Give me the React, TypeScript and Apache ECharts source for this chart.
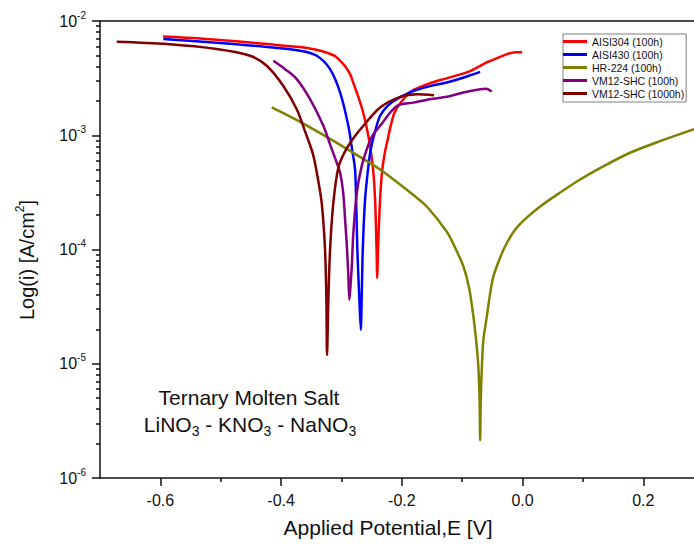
import React, { useEffect, useRef } from "react";
import * as echarts from "echarts";

const FONT = "'Liberation Sans', Arial, sans-serif";

// Tick values
const xMajorTicks = [-0.6, -0.4, -0.2, 0.0, 0.2];
const xMinorTicks = [-0.5, -0.3, -0.1, 0.1];
const yMajorTicks = [1e-6, 1e-5, 1e-4, 1e-3, 1e-2];

// AISI304 (100h)
const aisi304E = [-0.5956, -0.5343, -0.4796, -0.4233, -0.3686, -0.3437, -0.3239, -0.3106, -0.3023, -0.294, -0.2857, -0.2808, -0.2725, -0.2642, -0.2576, -0.2526, -0.2476, -0.2443, -0.2427, -0.2415, -0.241, -0.2389, -0.236, -0.2327, -0.2278, -0.2244, -0.2178, -0.2112, -0.1946, -0.1814, -0.1532, -0.125, -0.0869, -0.0587, -0.0422, -0.0256, -0.0124, -0.0008];
const aisi304I = [7.31e-3, 7.02e-3, 6.67e-3, 6.28e-3, 5.91e-3, 5.62e-3, 5.28e-3, 4.93e-3, 4.5e-3, 4.02e-3, 3.43e-3, 2.91e-3, 2.2e-3, 1.59e-3, 1.13e-3, 8.0e-4, 5.02e-4, 2.74e-4, 1.49e-4, 8.13e-5, 5.65e-5, 1.22e-4, 2.74e-4, 4.82e-4, 7.22e-4, 8.67e-4, 1.25e-3, 1.62e-3, 2.15e-3, 2.48e-3, 2.85e-3, 3.16e-3, 3.64e-3, 4.36e-3, 4.73e-3, 5.13e-3, 5.34e-3, 5.34e-3];

// AISI430 (100h)
const aisi430E = [-0.5951, -0.4791, -0.4233, -0.3686, -0.3409, -0.3189, -0.3023, -0.2886, -0.2824, -0.2775, -0.2753, -0.2737, -0.2703, -0.268, -0.2662, -0.2647, -0.2609, -0.2554, -0.2515, -0.2443, -0.236, -0.2228, -0.2084, -0.1809, -0.1532, -0.1255, -0.0985, -0.0703];
const aisi430I = [6.95e-3, 6.28e-3, 5.91e-3, 5.49e-3, 4.96e-3, 3.79e-3, 2.37e-3, 1.21e-3, 7.51e-4, 5.02e-4, 2.23e-4, 9.96e-5, 3.62e-5, 1.98e-5, 4.44e-5, 9.96e-5, 2.74e-4, 5.37e-4, 7.51e-4, 1.08e-3, 1.48e-3, 1.83e-3, 2.07e-3, 2.44e-3, 2.69e-3, 2.9e-3, 3.19e-3, 3.59e-3];

// HR-224 (100h)
const hr224E = [-0.4155, -0.3686, -0.3189, -0.2775, -0.236, -0.2029, -0.1809, -0.1587, -0.1255, -0.1118, -0.098, -0.0886, -0.0814, -0.077, -0.0732, -0.0712, -0.0703, -0.0692, -0.0674, -0.0649, -0.0592, -0.0538, -0.0483, -0.0372, -0.0261, -0.0124, 0.0014, 0.0291, 0.0622, 0.0954, 0.1368, 0.1782, 0.2312, 0.2843];
const hr224I = [1.75e-3, 1.31e-3, 9.3e-4, 6.87e-4, 5.02e-4, 3.71e-4, 3.0e-4, 2.38e-4, 1.43e-4, 1.04e-4, 7.11e-5, 4.62e-5, 2.59e-5, 1.62e-5, 9.41e-6, 4.8e-6, 2.14e-6, 4.8e-6, 9.41e-6, 1.62e-5, 2.59e-5, 4.09e-5, 5.81e-5, 8.48e-5, 1.14e-4, 1.49e-4, 1.79e-4, 2.38e-4, 3.15e-4, 4.1e-4, 5.45e-4, 7.03e-4, 9.01e-4, 1.13e-3];

// VM12-SHC (100h)
const vm100E = [-0.4128, -0.3935, -0.3741, -0.352, -0.33, -0.3189, -0.3078, -0.3023, -0.2973, -0.294, -0.2907, -0.2886, -0.2869, -0.2849, -0.2829, -0.2803, -0.2746, -0.2664, -0.2581, -0.2493, -0.236, -0.2084, -0.1809, -0.1532, -0.1255, -0.098, -0.0703, -0.0604, -0.051];
const vm100I = [4.48e-3, 3.79e-3, 3.1e-3, 2.07e-3, 1.21e-3, 8.32e-4, 5.74e-4, 4.72e-4, 3.21e-4, 1.83e-4, 9.96e-5, 5.81e-5, 3.62e-5, 4.91e-5, 7.11e-5, 1.4e-4, 3.13e-4, 5.37e-4, 7.51e-4, 9.77e-4, 1.21e-3, 1.8e-3, 1.93e-3, 2.07e-3, 2.17e-3, 2.37e-3, 2.53e-3, 2.55e-3, 2.41e-3];

// VM12-SHC (1000h)
const vm1000E = [-0.6723, -0.5895, -0.5066, -0.4514, -0.4238, -0.3963, -0.3741, -0.3603, -0.3471, -0.3388, -0.3326, -0.3272, -0.325, -0.3239, -0.3217, -0.3189, -0.3134, -0.3051, -0.294, -0.2791, -0.2637, -0.236, -0.2029, -0.1747, -0.1466];
const vm1000I = [6.58e-3, 6.28e-3, 5.68e-3, 4.96e-3, 4.06e-3, 2.7e-3, 1.69e-3, 1.08e-3, 6.8e-4, 4.1e-4, 2.52e-4, 9.96e-5, 3.62e-5, 1.19e-5, 3.62e-5, 9.96e-5, 2.58e-4, 5.22e-4, 7.22e-4, 9.59e-4, 1.21e-3, 1.75e-3, 2.17e-3, 2.29e-3, 2.24e-3];

const seriesNames = ["AISI304 (100h)", "AISI430 (100h)", "HR-224 (100h)", "VM12-SHC (100h)", "VM12-SHC (1000h)"];
const seriesColors = ["#ff0000", "#0000ff", "#808000", "#800080", "#800000"];
const seriesE = [aisi304E, aisi430E, hr224E, vm100E, vm1000E];
const seriesI = [aisi304I, aisi430I, hr224I, vm100I, vm1000I];

export default function App() {
  const ref = useRef<HTMLDivElement>(null);
  useEffect(() => {
    if (!ref.current) return;
    const chart = echarts.init(ref.current, null, { renderer: "svg" });
    const yMinor: number[] = [];
    for (let d = -6; d <= -3; d++) {
      for (let k = 2; k <= 9; k++) yMinor.push(k * Math.pow(10, d));
    }
    const axisColor = "#111";
    const xMin = -0.7;
    const xMax = 0.284;
    const option: any = {
      animation: false,
      backgroundColor: "#fff",
      grid: { left: 100, right: 0, top: 21, bottom: 67 },
      legend: {
        orient: "vertical",
        left: 563,
        top: 34,
        icon: "rect",
        itemWidth: 24,
        itemHeight: 3,
        itemGap: 0,
        padding: [1, 2, 2, 0],
        borderColor: "#808080",
        borderWidth: 1,
        backgroundColor: "#fff",
        textStyle: { fontSize: 10.5, lineHeight: 13, color: "#111", fontFamily: FONT },
        data: seriesNames,
      },
      xAxis: [
        {
          type: "value",
          min: xMin,
          max: xMax,
          position: "bottom",
          axisLine: { show: true, onZero: false, lineStyle: { color: axisColor, width: 1.5 } },
          axisTick: { show: true, customValues: xMajorTicks, length: 8, lineStyle: { color: axisColor, width: 1.5 } },
          axisLabel: {
            customValues: xMajorTicks,
            formatter: (v: number) => v.toFixed(1),
            fontSize: 16,
            color: "#111",
            fontFamily: FONT,
            margin: 14,
          },
          splitLine: { show: false },
        },
        {
          type: "value",
          min: xMin,
          max: xMax,
          position: "bottom",
          axisLine: { show: false, onZero: false },
          axisTick: { show: true, customValues: xMinorTicks, length: 4, lineStyle: { color: axisColor, width: 1.5 } },
          axisLabel: { show: false },
          splitLine: { show: false },
        },
        {
          type: "value",
          min: xMin,
          max: xMax,
          position: "top",
          axisLine: { show: true, onZero: false, lineStyle: { color: axisColor, width: 1.5 } },
          axisTick: { show: false },
          axisLabel: { show: false },
          splitLine: { show: false },
        },
      ],
      yAxis: [
        {
          type: "log",
          logBase: 10,
          min: 1e-6,
          max: 1e-2,
          position: "left",
          axisLine: { show: true, onZero: false, lineStyle: { color: axisColor, width: 1.5 } },
          axisTick: { show: true, customValues: yMajorTicks, length: 8, lineStyle: { color: axisColor, width: 1.5 } },
          axisLabel: {
            customValues: yMajorTicks,
            margin: 14,
            formatter: (v: number) => `{a|10}{b|${Math.round(Math.log10(v))}}`,
            rich: {
              a: { fontSize: 16, color: "#111", fontFamily: FONT },
              b: { fontSize: 10, color: "#111", fontFamily: FONT, padding: [0, 0, 12, 0] },
            },
          },
          splitLine: { show: false },
        },
        {
          type: "log",
          logBase: 10,
          min: 1e-6,
          max: 1e-2,
          position: "left",
          axisLine: { show: false, onZero: false },
          axisTick: { show: true, customValues: yMinor, length: 4, lineStyle: { color: axisColor, width: 1.5 } },
          axisLabel: { show: false },
          splitLine: { show: false },
        },
      ],
      graphic: [
        {
          type: "text",
          x: 27,
          y: 260,
          rotation: Math.PI / 2,
          style: {
            text: "{a|Log(i) [A/cm}{b|2}{a|]}",
            align: "center",
            verticalAlign: "middle",
            rich: {
              a: { fontSize: 20, fill: "#111", fontFamily: FONT },
              b: { fontSize: 12, fill: "#111", fontFamily: FONT, padding: [0, 0, 14, 0] },
            },
          },
        },
        {
          type: "text",
          x: 388,
          y: 527,
          style: {
            text: "Applied Potential,E [V]",
            fontSize: 21,
            fill: "#111",
            fontFamily: FONT,
            align: "center",
            verticalAlign: "middle",
          },
        },
        {
          type: "text",
          x: 249,
          y: 397,
          style: {
            text: "Ternary Molten Salt",
            fontSize: 21,
            fill: "#111",
            fontFamily: FONT,
            align: "center",
            verticalAlign: "middle",
          },
        },
        {
          type: "text",
          x: 250,
          y: 424,
          style: {
            text: "{n|LiNO}{s|3}{n| - KNO}{s|3}{n| - NaNO}{s|3}",
            align: "center",
            verticalAlign: "middle",
            rich: {
              n: { fontSize: 21, fill: "#111", fontFamily: FONT },
              s: { fontSize: 14, fill: "#111", fontFamily: FONT, padding: [14, 0, 0, 0] },
            },
          },
        },
      ],
      series: seriesNames.map((name, k) => ({
        type: "line",
        name,
        xAxisIndex: 0,
        yAxisIndex: 0,
        data: seriesE[k].map((e, i) => [e, seriesI[k][i]]),
        symbol: "none",
        showSymbol: false,
        smooth: 0.3,
        lineStyle: { width: 2.5, color: seriesColors[k] },
        itemStyle: { color: seriesColors[k] },
      })),
    };
    chart.setOption(option);
    return () => chart.dispose();
  }, []);
  return <div ref={ref} style={{ position: "absolute", left: 0, top: 0, width: 694, height: 545 }} />;
}
